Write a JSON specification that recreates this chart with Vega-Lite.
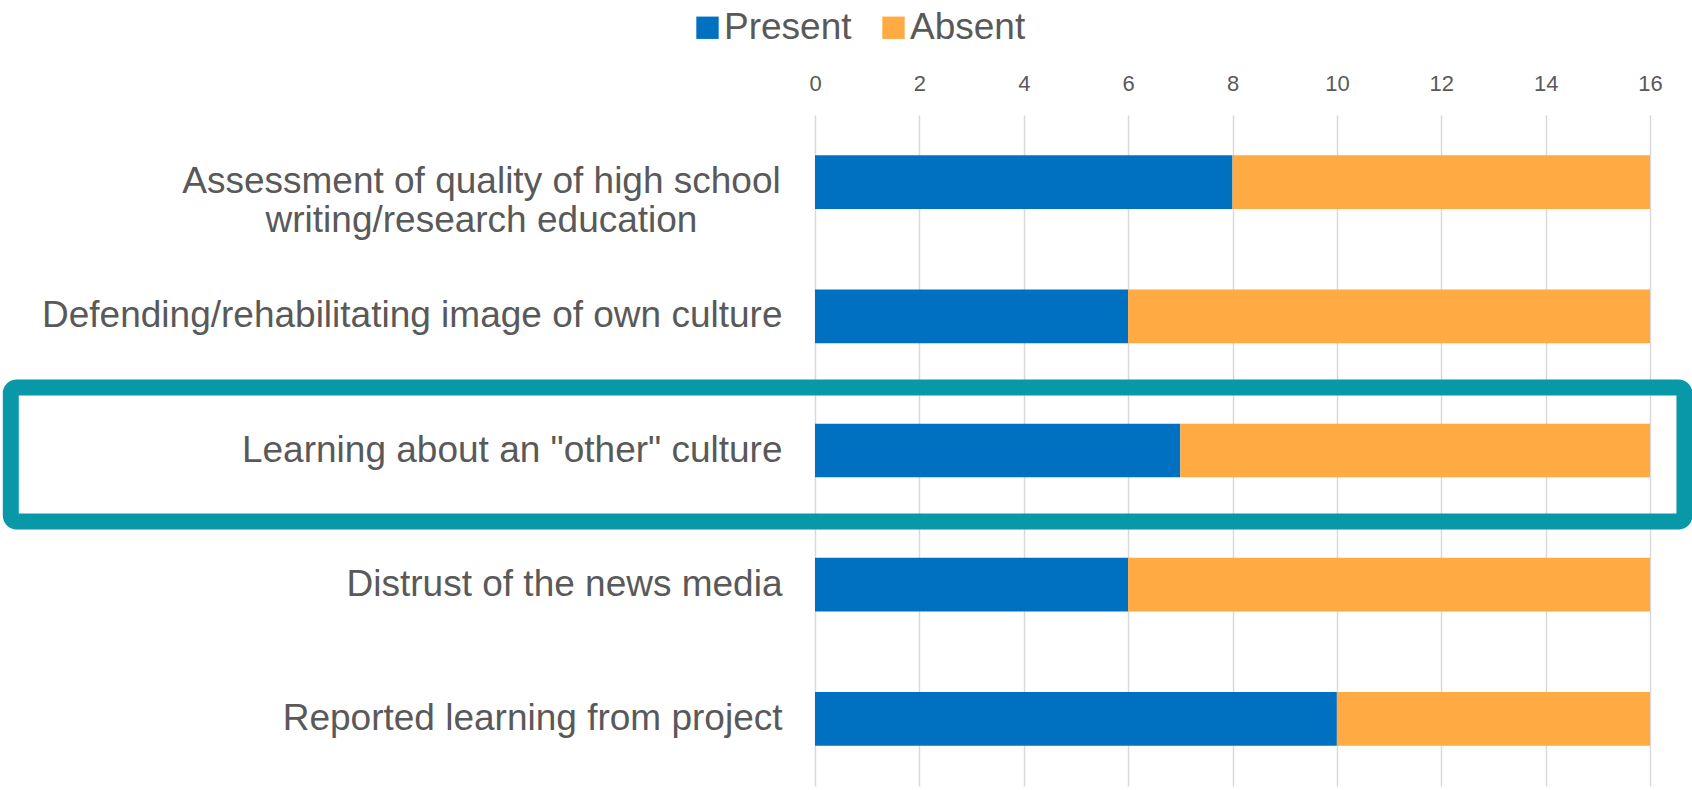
{
  "$schema": "https://vega.github.io/schema/vega-lite/v6.json",
  "width": 835,
  "height": 671,
  "autosize": {"type": "none"},
  "padding": {"left": 815, "top": 115, "right": 42, "bottom": 4},
  "background": "white",
  "config": {"view": {"stroke": null}, "font": "Liberation Sans"},
  "layer": [
    {
      "data": {"values": [
        {"category": "Assessment of quality of high school|writing/research education", "status": "Present", "count": 8, "ord": 1},
        {"category": "Assessment of quality of high school|writing/research education", "status": "Absent", "count": 8, "ord": 2},
        {"category": "Defending/rehabilitating image of own culture", "status": "Present", "count": 6, "ord": 1},
        {"category": "Defending/rehabilitating image of own culture", "status": "Absent", "count": 10, "ord": 2},
        {"category": "Learning about an \"other\" culture", "status": "Present", "count": 7, "ord": 1},
        {"category": "Learning about an \"other\" culture", "status": "Absent", "count": 9, "ord": 2},
        {"category": "Distrust of the news media", "status": "Present", "count": 6, "ord": 1},
        {"category": "Distrust of the news media", "status": "Absent", "count": 10, "ord": 2},
        {"category": "Reported learning from project", "status": "Present", "count": 10, "ord": 1},
        {"category": "Reported learning from project", "status": "Absent", "count": 6, "ord": 2}
      ]},
      "mark": {"type": "bar"},
      "encoding": {
        "y": {
          "field": "category", "type": "nominal",
          "sort": ["Assessment of quality of high school|writing/research education", "Defending/rehabilitating image of own culture", "Learning about an \"other\" culture", "Distrust of the news media", "Reported learning from project"],
          "scale": {"paddingInner": 0.6, "paddingOuter": 0.3},
          "axis": {
            "title": null, "ticks": false, "domain": false,
            "labelExpr": "split(datum.label, '|')",
            "labelFontSize": 37, "labelColor": "#595959",
            "labelPadding": {"condition": {"test": "indexof(datum.value, '|') >= 0", "value": 334}, "value": 33},
            "labelLimit": 0, "labelLineHeight": 39,
            "labelAlign": {"condition": {"test": "indexof(datum.value, '|') >= 0", "value": "center"}, "value": "right"}
          }
        },
        "x": {
          "field": "count", "type": "quantitative", "stack": "zero",
          "scale": {"domain": [0, 16], "nice": false},
          "axis": {
            "orient": "top", "title": null, "ticks": false, "domain": false,
            "values": [0, 2, 4, 6, 8, 10, 12, 14, 16],
            "labelFlush": false, "labelOverlap": false,
            "labelFontSize": 22, "labelColor": "#595959", "labelPadding": 20,
            "grid": true, "gridColor": "#D9D9D9", "gridWidth": 1.5
          }
        },
        "color": {
          "field": "status", "type": "nominal",
          "scale": {"domain": ["Present", "Absent"], "range": ["#0070C0", "#FFAA43"]},
          "legend": {
            "orient": "none", "legendX": -126, "legendY": -106, "direction": "horizontal",
            "title": null, "symbolType": "square", "symbolSize": 500, "symbolStrokeWidth": 0,
            "labelFontSize": 37, "labelColor": "#595959", "columnPadding": 23, "labelOffset": -2
          }
        },
        "order": {"field": "ord", "type": "quantitative"}
      }
    },
    {
      "data": {"values": [
        {"category": "Learning about an \"other\" culture", "x_start": -15.41, "x_end": 16.66}
      ]},
      "mark": {"type": "rect", "fill": "transparent", "stroke": "#0998A8", "strokeWidth": 16, "cornerRadius": 6, "yOffset": 4},
      "encoding": {
        "y": {
          "field": "category", "type": "nominal",
          "scale": {"domain": ["Assessment of quality of high school|writing/research education", "Defending/rehabilitating image of own culture", "Learning about an \"other\" culture", "Distrust of the news media", "Reported learning from project"], "paddingInner": 0, "paddingOuter": 0},
          "axis": null
        },
        "x": {"field": "x_start", "type": "quantitative", "scale": {"domain": [0, 16], "nice": false}},
        "x2": {"field": "x_end"}
      }
    }
  ],
  "resolve": {"scale": {"y": "independent"}}
}
